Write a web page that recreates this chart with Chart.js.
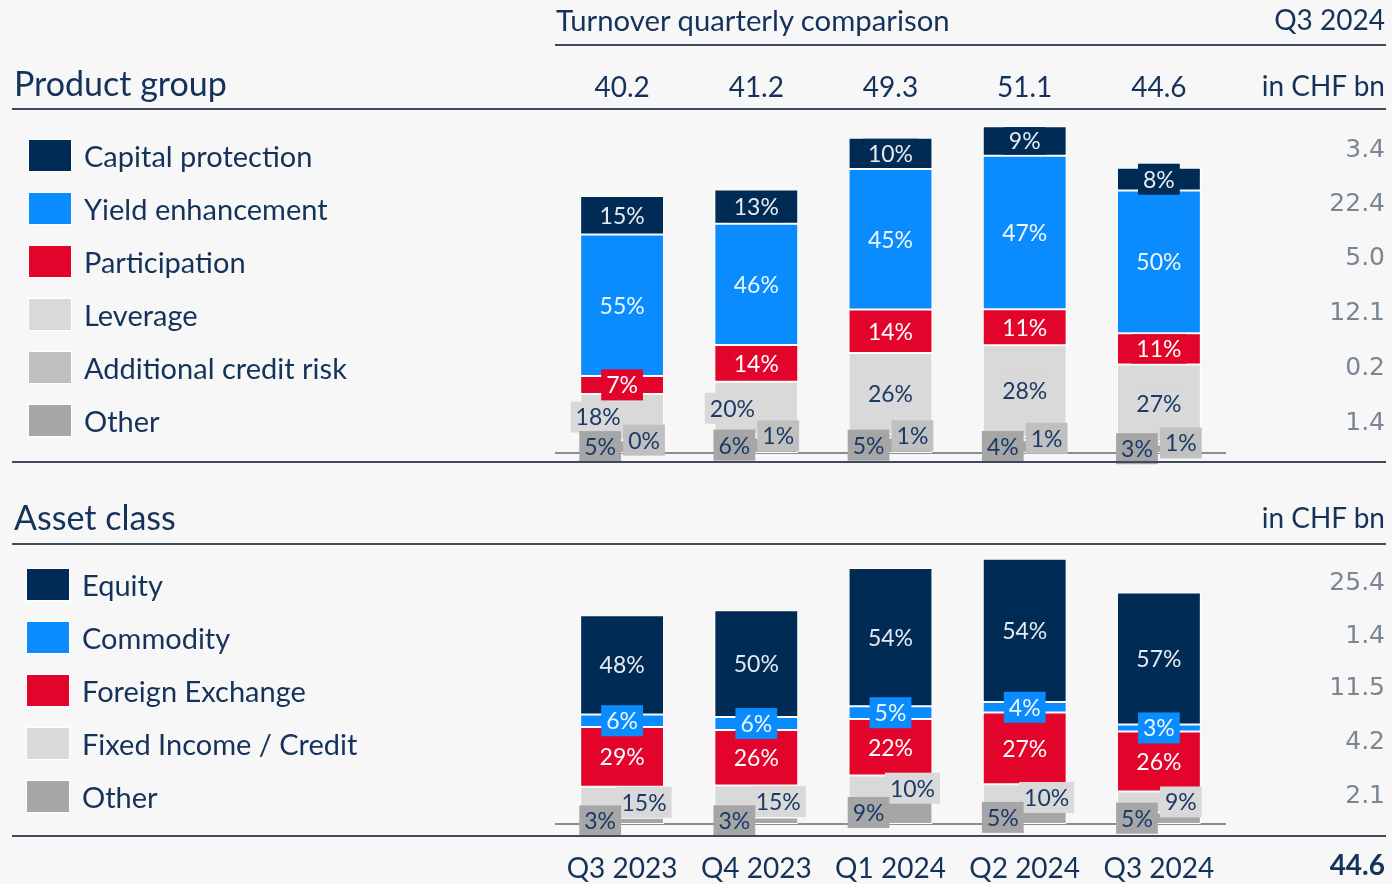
<!DOCTYPE html>
<html>
<head>
<meta charset="utf-8">
<script src="https://cdn.jsdelivr.net/npm/chart.js@4.4.1/dist/chart.umd.min.js"></script>
<style>
  html, body { margin: 0; padding: 0; background: #f7f7f7; }
  #page { position: relative; width: 1392px; height: 884px; overflow: hidden; background: #f7f7f7; }
  .rule { position: absolute; height: 2px; background: #3f4b5b; }
  .swatch { position: absolute; width: 42px; height: 31px; box-shadow: 0 0 0 1px #fff; }
  canvas { position: absolute; left: 0; }
</style>
</head>
<body>
<div id="page">
  <canvas id="pgChart" width="1392" height="470" style="top:0"></canvas>
  <canvas id="acChart" width="1392" height="414" style="top:470px"></canvas>
</div>
<script>
// --- data ---
const quarters = ['Q3 2023', 'Q4 2023', 'Q1 2024', 'Q2 2024', 'Q3 2024'];
const turnover = [40.2, 41.2, 49.3, 51.1, 44.6];

// Product group shares (%)
const pgNames = ['Capital protection', 'Yield enhancement', 'Participation', 'Leverage', 'Additional credit risk', 'Other'];
const pgCapital = [15, 13, 10, 9, 8];
const pgYield = [55, 46, 45, 47, 50];
const pgParticipation = [7, 14, 14, 11, 11];
const pgLeverage = [18, 20, 26, 28, 27];
const pgCredit = [0, 1, 1, 1, 1];
const pgOther = [5, 6, 5, 4, 3];
const pgLatest = ['3.4', '22.4', '5.0', '12.1', '0.2', '1.4'];

// Asset class shares (%)
const acNames = ['Equity', 'Commodity', 'Foreign Exchange', 'Fixed Income / Credit', 'Other'];
const acEquity = [48, 50, 54, 54, 57];
const acCommodity = [6, 6, 5, 4, 3];
const acFx = [29, 26, 22, 27, 26];
const acFixed = [15, 15, 10, 10, 9];
const acOther = [3, 3, 9, 5, 5];
const acLatest = ['25.4', '1.4', '11.5', '4.2', '2.1'];

const latestTotal = '44.6';

// --- styles ---
const NAVY_TXT = '#15325a';
const GREY_TXT = '#7b8694';
const C_NAVY = '#002b54', C_BLUE = '#0a8cff', C_RED = '#e3042b';
const C_LIGHT = '#d9d9d9', C_MID = '#c0c0c0', C_DARK = '#a6a6a6';

const page = document.getElementById('page');

function addText(txt, x, cy, o) {
  o = o || {};
  const size = o.size || 28;
  const d = document.createElement('div');
  d.textContent = txt;
  d.style.position = 'absolute';
  d.style.whiteSpace = 'nowrap';
  d.style.fontFamily = o.font || 'Lato';
  d.style.fontSize = size + 'px';
  d.style.lineHeight = (size * 1.2) + 'px';
  d.style.fontWeight = o.weight || 400;
  d.style.color = o.color || NAVY_TXT;
  d.style.top = (cy - size * 0.6 - 1) + 'px';
  if (o.align === 'right') d.style.right = (1392 - x) + 'px';
  else d.style.left = x + 'px';
  page.appendChild(d);
}

function addRule(x1, x2, y) {
  const d = document.createElement('div');
  d.className = 'rule';
  d.style.left = x1 + 'px';
  d.style.width = (x2 - x1) + 'px';
  d.style.top = (y - 1) + 'px';
  page.appendChild(d);
}

function addSwatch(x, cy, color) {
  const d = document.createElement('div');
  d.className = 'swatch';
  d.style.left = x + 'px';
  d.style.top = (cy - 15.5) + 'px';
  d.style.background = color;
  page.appendChild(d);
}

// header & rules
addText('Turnover quarterly comparison', 556, 21, { size: 29.3 });
addText('Q3 2024', 1385, 21, { align: 'right' });
addRule(555, 1386, 45);
addText('Product group', 14, 84, { size: 34 });
addText('in CHF bn', 1385, 87, { align: 'right' });
addRule(12, 1386, 109);
addRule(12, 1386, 462);
addText('Asset class', 14, 518, { size: 34 });
addText('in CHF bn', 1385, 519, { align: 'right' });
addRule(12, 1386, 544);
addRule(12, 1386, 836);
addText(latestTotal, 1385, 866, { align: 'right', weight: 700 });

// legends + latest values
const pgColors = [C_NAVY, C_BLUE, C_RED, C_LIGHT, C_MID, C_DARK];
const pgRowY = [155, 208, 261, 314, 367, 420];
const pgValY = [149, 203, 257, 312, 367, 422];
pgNames.forEach(function (n, i) {
  addSwatch(29, pgRowY[i], pgColors[i]);
  addText(n, 84, pgRowY[i] + 2, { size: 29 });
  addText(pgLatest[i], 1385, pgValY[i] + 1, { align: 'right', font: 'DejaVu Sans', size: 25, color: GREY_TXT });
});

const acColors = [C_NAVY, C_BLUE, C_RED, C_LIGHT, C_DARK];
const acRowY = [584, 637, 690, 743, 796];
const acValY = [582, 635, 687, 741, 795];
acNames.forEach(function (n, i) {
  addSwatch(27, acRowY[i], acColors[i]);
  addText(n, 82, acRowY[i] + 2, { size: 29 });
  addText(acLatest[i], 1385, acValY[i] + 1, { align: 'right', font: 'DejaVu Sans', size: 25, color: GREY_TXT });
});

// --- segment label plugin ---
const segLabels = {
  id: 'segLabels',
  beforeDatasetsDraw(chart) {
    const a = chart.chartArea, ctx = chart.ctx;
    if (!chart.options.plugins.segLabels.baseline) return;
    ctx.save();
    ctx.strokeStyle = '#8d8d8d';
    ctx.lineWidth = 2;
    ctx.beginPath();
    ctx.moveTo(a.left, a.bottom);
    ctx.lineTo(a.right, a.bottom);
    ctx.stroke();
    ctx.restore();
  },
  afterDatasetsDraw(chart) {
    const ctx = chart.ctx;
    ctx.save();
    ctx.font = '23px Lato';
    ctx.textAlign = 'center';
    ctx.textBaseline = 'middle';
    for (let i = chart.data.datasets.length - 1; i >= 0; i--) {
      const ds = chart.data.datasets[i];
      const meta = chart.getDatasetMeta(i);
      meta.data.forEach(function (bar, j) {
        const segH = bar.base - bar.y;
        const left = bar.x - bar.width / 2, right = bar.x + bar.width / 2;
        const text = ds.shares[j] + '%';
        const bw = ctx.measureText(text).width + 10;
        let bh = 31;
        let cx = bar.x;
        const cy = (bar.y + bar.base) / 2;
        if (ds.labelPos === 'left') cx = left + 20;
        else if (ds.labelPos === 'right') cx = right - 20;
        else {
          if (ds.labelPos === 'shift' && segH < 55) cx = left + 18;
          if (segH >= 24) bh = Math.min(bh, segH - 2);
        }
        ctx.fillStyle = ds.backgroundColor;
        ctx.fillRect(cx - bw / 2, cy - bh / 2, bw, bh);
        ctx.fillStyle = ds.labelColor;
        ctx.fillText(text, cx, cy + 1);
      });
    }
    ctx.restore();
  }
};

function toValues(shares, allSeries) {
  // share of each quarter's turnover, normalised so the bar adds up to the total
  return shares.map(function (s, j) {
    let sum = 0;
    allSeries.forEach(function (a) { sum += a[j]; });
    return s / sum * turnover[j];
  });
}

function makeSet(label, shares, all, color, txtColor, pos) {
  return {
    label: label,
    data: toValues(shares, all),
    shares: shares,
    backgroundColor: color,
    borderColor: '#ffffff',
    borderWidth: 1,
    borderSkipped: false,
    labelColor: txtColor,
    labelPos: pos,
    categoryPercentage: 1,
    barPercentage: 0.625
  };
}

const DARK_ON = '#e6eaf0', LIGHT_ON = '#1b3a66';

// --- product group chart ---
const pgAll = [pgOther, pgCredit, pgLeverage, pgParticipation, pgYield, pgCapital];
new Chart(document.getElementById('pgChart'), {
  type: 'bar',
  data: {
    labels: quarters,
    datasets: [
      makeSet('Other', pgOther, pgAll, C_DARK, LIGHT_ON, 'left'),
      makeSet('Additional credit risk', pgCredit, pgAll, C_MID, LIGHT_ON, 'right'),
      makeSet('Leverage', pgLeverage, pgAll, C_LIGHT, LIGHT_ON, 'shift'),
      makeSet('Participation', pgParticipation, pgAll, C_RED, '#ffffff', 'center'),
      makeSet('Yield enhancement', pgYield, pgAll, C_BLUE, '#eef6ff', 'center'),
      makeSet('Capital protection', pgCapital, pgAll, C_NAVY, DARK_ON, 'center')
    ]
  },
  options: {
    responsive: false,
    animation: false,
    layout: { padding: { left: 555, right: 166, top: 70, bottom: 17 } },
    plugins: {
      legend: { display: false },
      tooltip: { enabled: false },
      segLabels: { baseline: true }
    },
    scales: {
      x: { stacked: true, display: false },
      xTop: {
        type: 'category',
        position: 'top',
        labels: turnover.map(function (v) { return v.toFixed(1); }),
        grid: { display: false, drawTicks: false },
        border: { display: false },
        ticks: { color: NAVY_TXT, font: { family: 'Lato', size: 28 }, padding: 5, maxRotation: 0, autoSkip: false },
        afterFit: function (axis) { axis.height = 40; }
      },
      y: { stacked: true, display: false, min: 0, max: 53.64 }
    }
  },
  plugins: [segLabels]
});

// --- asset class chart ---
const acAll = [acOther, acFixed, acFx, acCommodity, acEquity];
new Chart(document.getElementById('acChart'), {
  type: 'bar',
  data: {
    labels: quarters,
    datasets: [
      makeSet('Other', acOther, acAll, C_DARK, LIGHT_ON, 'left'),
      makeSet('Fixed Income / Credit', acFixed, acAll, C_LIGHT, LIGHT_ON, 'right'),
      makeSet('Foreign Exchange', acFx, acAll, C_RED, '#ffffff', 'center'),
      makeSet('Commodity', acCommodity, acAll, C_BLUE, '#eef6ff', 'center'),
      makeSet('Equity', acEquity, acAll, C_NAVY, DARK_ON, 'center')
    ]
  },
  options: {
    responsive: false,
    animation: false,
    layout: { padding: { left: 555, right: 166, top: 80, bottom: 0 } },
    plugins: {
      legend: { display: false },
      tooltip: { enabled: false },
      segLabels: { baseline: true }
    },
    scales: {
      x: {
        stacked: true,
        grid: { display: false, drawTicks: false },
        border: { display: false },
        ticks: { color: NAVY_TXT, font: { family: 'Lato', size: 28 }, padding: 28, maxRotation: 0, autoSkip: false },
        afterFit: function (axis) { axis.height = 60; }
      },
      y: { stacked: true, display: false, min: 0, max: 52.79 }
    }
  },
  plugins: [segLabels]
});
</script>
</body>
</html>
